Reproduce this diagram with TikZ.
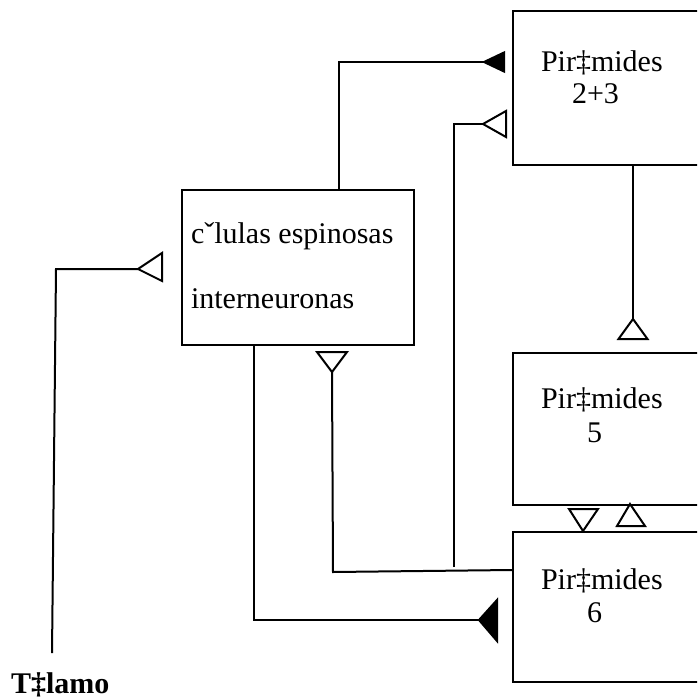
\documentclass[tikz,border=0pt]{standalone}
\usepackage{fontspec}
\setmainfont{Liberation Serif}
\begin{document}
\begin{tikzpicture}[x=0.5pt,y=-0.5pt,line width=1pt,
  box/.style={draw,rectangle,anchor=north west,inner sep=0pt},
  lbl/.style={anchor=base west,inner sep=0pt,font=\fontsize{15}{17}\selectfont},
  tri/.style={draw,fill=white,line join=miter},
  ftri/.style={draw,fill=black,line join=miter}]
\useasboundingbox (0,0) rectangle (697,697);
\clip (0,0) rectangle (697,697);
% boxes
\node[box,minimum width=150pt,minimum height=77pt] (p23) at (512,10) {};
\node[box,minimum width=116pt,minimum height=77.5pt] (cells) at (181,189) {};
\node[box,minimum width=150pt,minimum height=76pt] (p5) at (512,352) {};
\node[box,minimum width=150pt,minimum height=75pt] (p6) at (512,531) {};
% labels
\node[lbl] (p23a) at (540,71) {Pir‡mides};
\node[lbl] (p23b) at (571,103) {2+3};
\node[lbl] (cellsa) at (190,243) {cˇlulas espinosas};
\node[lbl] (cellsb) at (190,308) {interneuronas};
\node[lbl] (p5a) at (540,408) {Pir‡mides};
\node[lbl] (p5b) at (586,442) {5};
\node[lbl] (p6a) at (540,589) {Pir‡mides};
\node[lbl] (p6b) at (586,622) {6};
\node[lbl,font=\fontsize{15}{17}\selectfont\bfseries] (thal) at (10,693) {T‡lamo};
% triangle tips and corners
\coordinate (t1) at (484,62);
\coordinate (t2) at (483,124);
\coordinate (t3) at (633,319);
\coordinate (t4) at (332,372);
\coordinate (t5) at (479,620);
\coordinate (t6) at (583,531);
\coordinate (t7) at (630,504);
\coordinate (t8) at (138,269);
\coordinate (thtop) at (56,269);
\coordinate (thbot) at (52,653);
\coordinate (j2) at (454,567);
\coordinate (c4) at (333,572);
% connectors
\draw ([xshift=79pt]cells.north west) |- (t1);
\draw (j2) |- (t2);
\draw ([xshift=60.5pt]p23.south west) -- (t3);
\draw ([yshift=-19.5pt]p6.north west) -- (c4) -- (t4);
\draw ([xshift=36.5pt]cells.south west) |- (t5);
\draw (thbot) -- (thtop) -- (t8);
% triangles
\draw[ftri] (t1) -- ++(20,-9.5) -- ++(0,19) -- cycle;
\draw[tri] (t2) -- ++(23,-13) -- ++(0,26) -- cycle;
\draw[tri] (t3) -- ++(-14.5,20) -- ++(29,0) -- cycle;
\draw[tri] (t4) -- ++(-15,-20) -- ++(30,0) -- cycle;
\draw[ftri] (t5) -- ++(18,-20) -- ++(0,41) -- cycle;
\draw[tri] (t6) -- ++(-14,-22) -- ++(29,0) -- cycle;
\draw[tri] (t7) -- ++(-13,22) -- ++(28,0) -- cycle;
\draw[tri] (t8) -- ++(24,-16) -- ++(0,28) -- cycle;
\end{tikzpicture}
\end{document}
